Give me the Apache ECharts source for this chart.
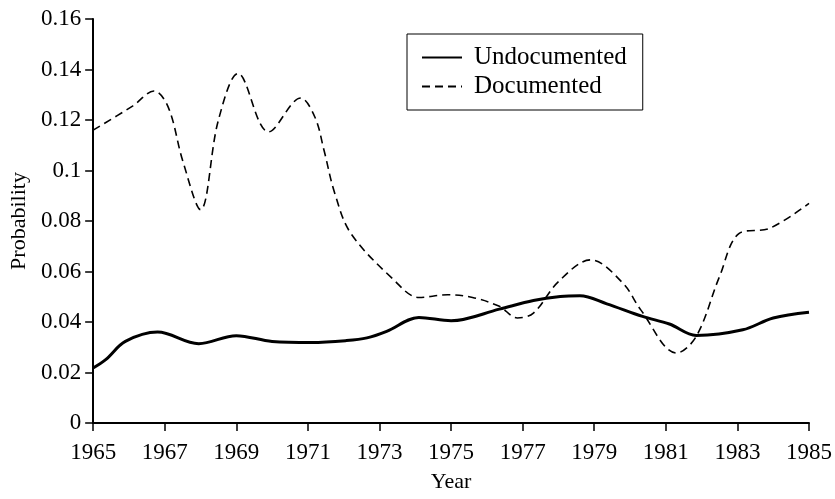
<!DOCTYPE html>
<html>
<head>
<meta charset="utf-8">
<script src="https://cdn.jsdelivr.net/npm/echarts@6/dist/echarts.min.js"></script>
<style>
  html, body { margin: 0; padding: 0; background: #fff; }
  #chart { width: 835px; height: 499px; }
</style>
</head>
<body>
<div id="chart"></div>
<script>
// years and probabilities
var baseYear = 1965
var undocYears = [1965, 1965.35, 1965.9, 1966.8, 1967.95, 1969.0, 1970.0, 1971.1, 1972.05, 1972.65, 1973.2, 1974.1, 1975.0, 1976.35, 1977.3, 1978.05, 1978.6, 1979.35, 1980.35, 1981.1, 1981.85, 1983.15, 1984.0, 1985]
var undocValues = [0.0218, 0.0251, 0.0323, 0.036, 0.0314, 0.0346, 0.0323, 0.0319, 0.0326, 0.0337, 0.0363, 0.0418, 0.0405, 0.0451, 0.0485, 0.0501, 0.0504, 0.0472, 0.0422, 0.0392, 0.0347, 0.0369, 0.0416, 0.0439]
var docYears = [1965, 1966.1, 1966.7, 1967.1, 1967.5, 1968.0, 1968.5, 1969.05, 1969.9, 1970.8, 1971.2, 1971.45, 1971.75, 1972.2, 1973.4, 1974.1, 1974.9, 1975.6, 1976.35, 1976.85, 1977.3, 1978.0, 1978.9, 1979.8, 1980.3, 1981.3, 1981.85, 1982.5, 1983.05, 1983.9, 1985]
var docValues = [0.116, 0.1255, 0.1315, 0.125, 0.104, 0.0845, 0.12, 0.1384, 0.1153, 0.1287, 0.121, 0.108, 0.091, 0.0751, 0.0567, 0.0497, 0.0508, 0.0497, 0.0462, 0.0416, 0.0435, 0.056, 0.0646, 0.0554, 0.0448, 0.0277, 0.0343, 0.058, 0.0751, 0.0771, 0.087]
var seriesNames = ['Undocumented', 'Documented']

var serif = 'Liberation Serif'

// pair years (offset from 1965 so ticks start at 1965) with values
var pairs = function (years, values) {
  return years.map(function (y, i) { return [y - baseYear, values[i]] })
}

var myChart = echarts.init(document.getElementById('chart'))
myChart.setOption({
  animation: false,
  backgroundColor: '#fff',
  grid: { left: 92, right: 25, top: 19, bottom: 76 },
  legend: {
    orient: 'vertical',
    left: 407,
    top: 34,
    padding: [11, 16, 11, 14],
    itemGap: 4,
    itemWidth: 40,
    itemHeight: 14,
    borderColor: '#000',
    borderWidth: 1,
    itemStyle: { opacity: 0 },
    textStyle: { fontFamily: serif, fontSize: 25, lineHeight: 25, color: '#000', padding: [0, 0, 0, 7] },
    data: seriesNames
  },
  xAxis: {
    type: 'value',
    min: 0,
    max: 20,
    interval: 2,
    name: 'Year',
    nameLocation: 'middle',
    nameGap: 48,
    nameTextStyle: { fontFamily: serif, fontSize: 22, color: '#000' },
    splitLine: { show: false },
    axisLine: { lineStyle: { color: '#000', width: 2 } },
    axisTick: { length: 8, lineStyle: { color: '#000', width: 1.5 } },
    axisLabel: {
      margin: 18,
      fontFamily: serif, fontSize: 23, color: '#000',
      formatter: function (v) { return String(v + baseYear) }
    }
  },
  yAxis: {
    type: 'value',
    min: 0,
    max: 0.16,
    interval: 0.02,
    name: 'Probability',
    nameLocation: 'middle',
    nameGap: 62,
    nameTextStyle: { fontFamily: serif, fontSize: 22, color: '#000' },
    splitLine: { show: false },
    axisLine: { show: true, lineStyle: { color: '#000', width: 2 } },
    axisTick: { show: true, length: 8, lineStyle: { color: '#000', width: 1.5 } },
    axisLabel: {
      margin: 12,
      fontFamily: serif, fontSize: 23, color: '#000',
      formatter: function (v) { return String(+v.toFixed(2)) }
    }
  },
  series: [
    {
      name: seriesNames[0],
      type: 'line',
      smooth: 0.35,
      symbol: 'none',
      lineStyle: { color: '#000', width: 3 },
      itemStyle: { color: '#000' },
      data: pairs(undocYears, undocValues)
    },
    {
      name: seriesNames[1],
      type: 'line',
      smooth: 0.35,
      symbol: 'none',
      lineStyle: { color: '#000', width: 1.6, type: [8, 5] },
      itemStyle: { color: '#000' },
      data: pairs(docYears, docValues)
    }
  ]
})
</script>
</body>
</html>
